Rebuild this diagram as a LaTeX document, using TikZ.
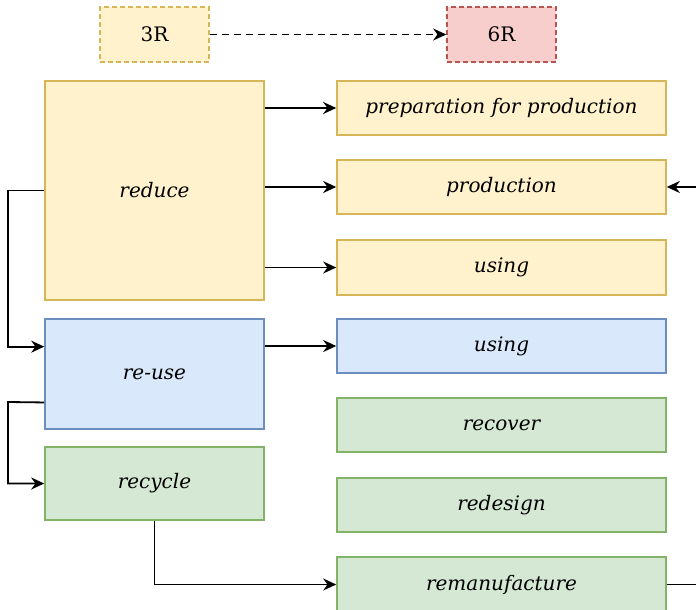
\documentclass[tikz,border=0pt]{standalone}
\usepackage{fontspec}
\setmainfont{DejaVu Serif}
\usetikzlibrary{arrows.meta,calc}
\definecolor{yfill}{HTML}{FFF2CC}\definecolor{ydraw}{HTML}{D6B656}
\definecolor{bfill}{HTML}{DAE8FC}\definecolor{bdraw}{HTML}{6C8EBF}
\definecolor{gfill}{HTML}{D5E8D4}\definecolor{gdraw}{HTML}{82B366}
\definecolor{rfill}{HTML}{F8CECC}\definecolor{rdraw}{HTML}{B85450}
\begin{document}
\begin{tikzpicture}[x=1pt,y=-1pt,
  box/.style={rectangle,inner sep=0pt,line width=1.6pt,font=\fontsize{20}{24}\selectfont\itshape},
  ybox/.style={box,fill=yfill,draw=ydraw},
  bbox/.style={box,fill=bfill,draw=bdraw},
  gbox/.style={box,fill=gfill,draw=gdraw},
  rbox/.style={box,fill=rfill,draw=rdraw},
  wide/.style={minimum width=329pt,minimum height=54pt},
  dash box/.style={dash pattern=on 5pt off 3pt},
  conn/.style={line width=1.8pt,-{Stealth[length=13pt,width=12pt]}}]
\useasboundingbox (0,0) rectangle (696,610);
\clip (0,0) rectangle (696,610);
\node[ybox,dash box,minimum width=109pt,minimum height=55pt,font=\fontsize{20}{24}\selectfont] (r3) at (154.5,34.5) {3R};
\node[rbox,dash box,minimum width=109pt,minimum height=55pt,font=\fontsize{20}{24}\selectfont] (r6) at (501.5,34.5) {6R};
\node[ybox,minimum width=219pt,minimum height=219pt] (reduce) at (154.5,190.5) {reduce};
\node[bbox,minimum width=219pt,minimum height=110pt] (reuse) at (154.5,374) {re-use};
\node[gbox,minimum width=219pt,minimum height=73pt] (recycle) at (154.5,483.5) {recycle};
\node[ybox,wide] (prep) at (501.5,108) {preparation for production};
\node[ybox,wide] (prod) at (501.5,187) {production};
\node[ybox,wide,minimum height=55pt] (usingA) at (501.5,267.5) {using};
\node[bbox,wide] (usingB) at (501.5,346) {using};
\node[gbox,wide] (recover) at (501.5,425) {recover};
\node[gbox,wide] (redesign) at (501.5,505) {redesign};
\node[gbox,wide,minimum height=55pt] (reman) at (501.5,584.5) {remanufacture};
\draw[conn,dash pattern=on 7pt off 5pt] (r3) -- (r6);
\draw[conn] (reduce.east |- prep.west) -- (prep.west);
\draw[conn] (reduce.east |- prod.west) -- (prod.west);
\draw[conn] (reduce.east |- usingA.west) -- (usingA.west);
\draw[conn] (reuse.east |- usingB.west) -- (usingB.west);
\coordinate (inA) at ($(reuse.north west)!0.255!(reuse.south west)$);
\coordinate (outB) at ($(reuse.north west)!0.755!(reuse.south west)$);
\draw[conn] (reduce.west) -- (8,190.5) |- (inA);
\draw[conn] (outB) -- (8,402) |- (recycle.west);
\draw[conn] (recycle.south) |- (reman.west);
\coordinate (far) at (720,584.5);
\draw[conn] (reman.east) -- (far) |- (prod.east);
\end{tikzpicture}
\end{document}
